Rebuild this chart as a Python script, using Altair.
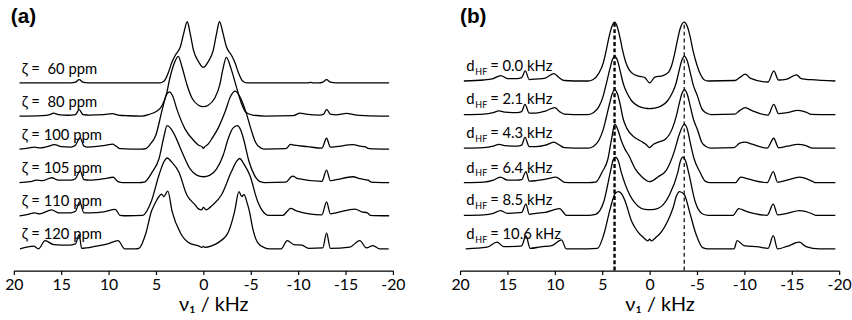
import altair as alt
import pandas as pd

# ---------------------------------------------------------------------------
# Spectra: (nu1 in kHz, intensity above each trace's own baseline)
# ---------------------------------------------------------------------------
A_LABELS = ["ζ = \u00a060 ppm", "ζ = \u00a080 ppm", "ζ = 100 ppm",
            "ζ = 105 ppm", "ζ = 110 ppm", "ζ = 120 ppm"]
B_VALUES = ["0.0", "2.1", "4.3", "6.4", "8.5", "10.6"]

a60 = [(19.4, 0), (14.0, 0), (13.5, 0.8), (13.1, 3.3), (12.7, 0.8), (12.2, 0), (6.0, 0), (4.6, 0),
       (4.17, 1.7), (3.65, 11.7), (3.36, 20), (2.95, 28.3), (2.43, 36.7), (2.08, 50), (1.7, 62),
       (1.39, 50), (1.04, 33), (0.52, 21.7), (0.0, 15.7), (-0.52, 21.7), (-1.04, 33), (-1.39, 50),
       (-1.7, 62), (-2.08, 50), (-2.43, 36.7), (-2.95, 28.3), (-3.36, 20), (-3.65, 11.7),
       (-4.17, 1.7), (-4.6, 0), (-11.0, 0), (-11.3, 0.7), (-11.6, 0), (-12.2, 0), (-12.6, 0.8),
       (-13.0, 3.3), (-13.4, 0.8), (-14.0, 0), (-19.6, 0)]

a80 = [(19.4, 0), (17.0, 0.5), (16.2, 1.5), (15.8, 3), (15.3, 1.5), (14.3, 0.8), (13.5, 1.5),
       (13.1, 6.5), (12.7, 1.5), (12.0, 1), (10.5, 1.5), (9.6, 2.5), (9.0, 1), (8.0, 0.3), (6.5, 0),
       (5.7, 1.8), (4.9, 5), (4.37, 10.5), (3.9, 22), (3.57, 37), (3.13, 52), (2.65, 60.5),
       (2.26, 50), (1.74, 32), (1.22, 18.5), (0.52, 11), (0.0, 9.5), (-0.52, 11), (-1.22, 18.5),
       (-1.74, 32), (-2.05, 47), (-2.43, 59.5), (-2.95, 47), (-3.47, 30), (-3.99, 13.5),
       (-4.51, 3.5), (-5.2, 1), (-6.5, 0), (-9.5, 0.5), (-10.2, 3), (-10.8, 2), (-12.3, 1),
       (-12.7, 2), (-13.0, 6.8), (-13.4, 2), (-14.0, 1.2), (-15.1, 2.8), (-16.0, 1.2),
       (-17.0, 0.5), (-19.6, 0)]

a100 = [(19.4, 0), (18.5, 1), (17.8, 2), (17.2, 1.2), (16.5, 2.5), (15.7, 4.5), (15.0, 2.5),
        (14.0, 2), (13.5, 4), (13.0, 11.5), (12.6, 3), (12.2, 2), (11.0, 3), (10.2, 4), (9.6, 5),
        (9.2, 3), (8.8, 0.5), (7.5, 0), (6.5, 0), (6.07, 0.5), (5.6, 5), (5.03, 13.7), (4.34, 40),
        (3.9, 55), (3.57, 58), (3.25, 54), (2.78, 40), (1.91, 20), (1.04, 9), (0.5, 4),
        (0.15, 2.5), (0.0, 0.8), (-0.15, 2.5), (-0.5, 5), (-0.86, 10), (-1.6, 22), (-2.26, 37),
        (-2.9, 54), (-3.36, 58.7), (-3.8, 54), (-4.51, 37), (-5.03, 20), (-5.5, 7), (-6.07, 1),
        (-6.5, 0), (-8.7, 0.5), (-9.2, 4.7), (-9.6, 4), (-11.0, 2.5), (-12.5, 1), (-13.0, 11),
        (-13.4, 2), (-14.0, 2.5), (-15.8, 4.5), (-16.5, 3), (-17.0, 2.5), (-17.5, 0.5),
        (-19.6, 0)]

a105 = [(19.4, 0), (18.3, 1), (17.6, 2.5), (17.0, 2), (16.0, 5), (15.3, 2.5), (14.0, 2.5),
        (13.5, 4), (13.0, 12), (12.6, 3), (12.0, 2.5), (10.5, 4), (9.5, 5.5), (9.0, 1), (8.5, 0),
        (6.8, 0), (6.25, 0.5), (5.39, 11), (4.69, 24), (4.2, 45), (3.82, 57.7), (3.45, 55),
        (3.0, 47.7), (2.25, 31), (1.4, 14), (0.7, 7.7), (0.0, 6), (-0.7, 7.7), (-1.4, 14),
        (-2.1, 28), (-2.6, 44), (-3.1, 55), (-3.57, 57.7), (-3.95, 53), (-4.3, 42), (-4.8, 22),
        (-5.38, 7.7), (-6.0, 1), (-6.5, 0), (-8.7, 0.5), (-9.4, 6.7), (-10.0, 4), (-12.5, 1.3),
        (-13.0, 12.7), (-13.4, 2), (-14.0, 3), (-15.8, 6), (-16.5, 4), (-17.4, 2.5),
        (-17.7, 0.5), (-19.6, 0)]

a110 = [(19.4, 0), (18.5, 1.5), (17.8, 3), (17.3, 2), (16.0, 6), (15.3, 3), (14.0, 3),
        (13.5, 4.5), (13.05, 14), (12.6, 3), (12.0, 3), (10.5, 4), (9.3, 6.5), (8.8, 0.5),
        (8.0, 0), (6.4, 0.5), (5.5, 14.5), (4.69, 41), (4.2, 54), (3.8, 58.5), (3.4, 55),
        (2.6, 44.5), (1.74, 21), (0.87, 11), (0.52, 7), (0.2, 6), (0.0, 8.5), (-0.3, 6),
        (-0.7, 8.5), (-1.0, 11), (-1.9, 21), (-2.95, 44.5), (-3.5, 55), (-3.82, 58), (-4.3, 52),
        (-4.9, 41), (-5.73, 14.5), (-6.4, 3), (-6.8, 0.5), (-8.4, 0.5), (-8.8, 4), (-9.2, 7.5),
        (-9.8, 5), (-12.5, 1), (-13.0, 14), (-13.4, 2), (-14.0, 3), (-16.0, 6.8), (-16.7, 4),
        (-17.3, 3), (-17.6, 0.5), (-19.6, 0)]

a120 = [(19.35, 0), (17.9, 2.7), (17.4, 0), (16.7, 8.3), (15.8, 4.3), (14.2, 3.7), (13.5, 5),
        (13.1, 14.3), (12.85, 0.5), (11.3, 2.7), (10.1, 5), (9.0, 8.3), (8.3, 0), (7.2, 0),
        (6.8, 0.5), (6.1, 14.7), (5.48, 38), (5.05, 47), (4.69, 53), (4.41, 55.5), (4.17, 53),
        (3.75, 58.5), (3.3, 38), (2.43, 16.3), (1.56, 6.3), (0.52, 3), (0.15, 1.5), (0.0, 2.5),
        (-0.15, 1.5), (-0.87, 3), (-1.56, 6.3), (-2.6, 16.3), (-3.3, 38), (-3.75, 58),
        (-4.05, 53), (-4.3, 55), (-4.6, 47), (-4.86, 38), (-5.2, 21), (-5.73, 6.3),
        (-6.42, 1.3), (-7.0, 0), (-8.2, 0), (-8.85, 8.3), (-9.55, 4.3), (-10.4, 3.7),
        (-11.1, 0.5), (-12.6, 1), (-13.0, 16), (-13.4, 0.5), (-15.45, 1.7), (-16.5, 8.3),
        (-17.2, 1), (-17.9, 3.3), (-18.6, 0), (-19.55, 0)]

b00 = [(19.6, 0), (17.5, 1), (16.5, 2.5), (15.7, 5.5), (15.0, 2.5), (14.0, 2.5), (13.5, 3.5),
       (13.12, 10.3), (12.7, 1.5), (12.0, 2), (11.0, 3), (10.1, 7.5), (9.5, 3), (9.0, 0.5),
       (8.0, 0), (6.5, 0), (6.0, 1.3), (5.35, 8), (4.9, 18), (4.6, 30), (4.25, 46), (3.95, 56),
       (3.7, 59.7), (3.45, 56), (3.15, 45), (2.85, 31), (2.55, 20), (2.2, 12), (1.85, 8),
       (1.2, 5), (0.5, 3.5), (0.0, -2), (-0.55, 4), (-1.4, 5.5), (-2.0, 9), (-2.3, 15),
       (-2.65, 28), (-2.95, 42), (-3.25, 54), (-3.65, 59.7), (-3.95, 56), (-4.25, 46),
       (-4.6, 30), (-5.0, 16), (-5.35, 7), (-5.75, 1.3), (-6.2, 0), (-9.0, 0.5), (-9.5, 3.5),
       (-10.1, 7), (-10.6, 3), (-12.5, -1), (-13.1, 10.3), (-13.6, 1), (-14.5, 2),
       (-15.5, 6.3), (-16.0, 2.3), (-17.0, 1.3), (-19.6, 0)]

b21 = [(19.6, 0), (17.5, 0.5), (16.5, 2), (15.9, 3.7), (15.2, 2.5), (14.0, 2), (13.5, 3),
       (13.15, 10.3), (12.7, 1.5), (12.0, 1.5), (11.0, 3.5), (10.0, 7), (9.5, 3), (9.0, 0.5),
       (8.0, 0), (6.5, 0), (5.9, 2), (5.35, 8), (4.9, 18.7), (4.6, 30), (4.2, 46), (3.95, 55),
       (3.68, 59.3), (3.4, 55), (3.1, 44), (2.8, 32), (2.4, 22), (1.9, 14), (1.2, 8.5),
       (0.5, 6.5), (0.0, 6), (-0.5, 6.5), (-1.2, 8.5), (-1.9, 14), (-2.4, 22), (-2.8, 32),
       (-3.1, 44), (-3.4, 55), (-3.68, 59.3), (-3.95, 55), (-4.3, 42), (-4.6, 30),
       (-5.05, 18.7), (-5.5, 6), (-5.9, 2), (-6.5, 0), (-9.0, 0.5), (-9.5, 4), (-10.1, 7),
       (-10.8, 4), (-12.5, -0.5), (-13.1, 10.3), (-13.6, 1), (-14.5, 2), (-15.65, 4.3),
       (-16.5, 2.5), (-17.0, 0.3), (-19.6, 0)]

b43 = [(19.6, 0), (17.5, 0.5), (16.5, 2), (15.9, 3.7), (15.2, 2.5), (14.0, 2), (13.5, 3),
       (13.15, 11), (12.7, 1.5), (12.0, 1.5), (11.0, 3), (10.1, 6), (9.5, 3), (9.0, 0.5),
       (8.0, 0), (6.5, 0), (5.9, 2), (5.35, 8), (4.9, 18.7), (4.6, 30), (4.2, 46), (3.95, 55),
       (3.68, 59.3), (3.4, 55), (3.1, 44), (2.8, 30), (2.4, 20), (1.6, 11), (0.9, 7),
       (0.4, 4), (0.0, 0.5), (-0.4, 4), (-0.9, 6), (-1.7, 9.3), (-2.4, 20), (-2.8, 32),
       (-3.1, 44), (-3.4, 55), (-3.68, 59.3), (-3.95, 55), (-4.3, 42), (-4.6, 30),
       (-5.05, 18.7), (-5.5, 6), (-5.9, 2), (-6.5, 0), (-8.9, 0.5), (-9.5, 5), (-10.1, 6),
       (-10.8, 4), (-12.4, 0), (-13.1, 10), (-13.6, 0.5), (-14.5, 2), (-15.65, 3.7),
       (-16.5, 2.5), (-17.2, 0), (-19.6, 0)]

b64 = [(19.6, 0), (17.5, 0.5), (16.5, 2.5), (15.75, 5.7), (15.0, 2.5), (14.0, 2.5), (13.5, 3),
       (13.05, 11.3), (12.7, 1.5), (12.0, 2), (11.0, 3.5), (9.86, 5.7), (9.4, 3), (9.0, 0.3),
       (8.0, 0), (6.5, 0), (5.7, 0.5), (5.0, 11), (4.4, 24), (4.0, 45), (3.68, 59.3),
       (3.4, 55), (3.0, 43), (2.6, 34), (2.22, 28), (1.53, 14.3), (0.83, 6), (0.0, 1),
       (-0.9, 6), (-1.77, 12.7), (-2.64, 32.7), (-3.1, 48), (-3.68, 59.3), (-3.95, 55),
       (-4.3, 40), (-4.7, 24), (-5.3, 11), (-5.9, 1.3), (-6.4, 0), (-9.06, 0), (-9.6, 5.7),
       (-10.5, 3.5), (-12.4, 0), (-13.05, 11.3), (-13.5, 0.5), (-14.5, 2.5), (-15.8, 5.7),
       (-17.2, 1.3), (-17.5, 0), (-19.6, 0)]

b85 = [(19.6, 0), (17.5, 0.5), (16.5, 2), (15.75, 4.7), (15.0, 2), (14.0, 2.5), (13.5, 3),
       (13.05, 11.3), (12.7, 1), (12.0, 2), (11.0, 3), (9.5, 6.7), (9.1, 3), (8.8, 0), (8.0, 0),
       (6.5, 0), (5.7, 1), (4.83, 14), (4.14, 44), (3.85, 56), (3.6, 59), (3.3, 55), (3.0, 44),
       (2.1, 20.7), (1.18, 9), (0.5, 6), (0.0, 5.7), (-0.5, 6), (-1.25, 9), (-2.1, 20.7),
       (-2.99, 44), (-3.25, 55), (-3.5, 59), (-3.8, 55), (-4.1, 44), (-4.8, 14), (-5.6, 1.3),
       (-6.2, 0), (-8.8, 0), (-9.4, 6.7), (-10.2, 4), (-12.4, 0), (-13.05, 11.3), (-13.5, 0.5),
       (-14.5, 2), (-15.8, 4.7), (-17.2, 1.3), (-17.5, 0), (-19.6, 0)]

b106 = [(19.4, 0), (17.15, 1.7), (16.1, 6.7), (15.4, 2.3), (14.0, 2.5), (13.5, 3),
        (13.05, 13.3), (12.6, 0.5), (11.5, 2), (10.3, 3.3), (9.3, 9), (8.8, 0), (8.0, 0),
        (6.5, 0), (5.5, 0.5), (4.83, 14.7), (4.14, 41.3), (3.62, 56.3), (3.26, 58), (2.9, 55),
        (2.57, 48), (1.9, 28), (1.3, 18), (0.6, 11), (0.2, 8), (0.0, 9.7), (-0.2, 8),
        (-0.6, 11), (-1.3, 18), (-1.9, 28), (-2.47, 41.3), (-2.85, 54), (-3.16, 58),
        (-3.68, 54.7), (-4.2, 38), (-4.9, 14.7), (-5.59, 1.3), (-6.2, 0), (-8.9, 0),
        (-9.24, 8.3), (-9.95, 3.3), (-11.5, 2), (-12.5, 0.5), (-13.05, 13.3), (-13.5, 0),
        (-14.5, 2.5), (-15.8, 6.7), (-16.5, 2.3), (-17.9, 0), (-19.6, 0)]

# peak positions marked by the dashed guides in panel (b)
GUIDE_X = [3.7, -3.65]

# ---------------------------------------------------------------------------
# Layout constants (stacking offsets, sizes, styles)
# ---------------------------------------------------------------------------
A_OFFSETS = [190, 156.5, 123, 89, 55.5, 22]
B_OFFSETS = [192, 158, 124, 89, 56, 22]
W, H = 384, 260
FONT = "Lato"
XSCALE = alt.Scale(domain=[20, -20], nice=False, zero=False)
YSCALE = alt.Scale(domain=[0, H], nice=False, zero=False)


def stack(traces, offsets):
    rows = []
    for t, (pts, off) in enumerate(zip(traces, offsets)):
        for i, (x, h) in enumerate(pts):
            rows.append({"trace": t, "i": i, "x": x, "y": off + h})
    return pd.DataFrame(rows)


x_axis = alt.Axis(
    values=[20, 15, 10, 5, 0, -5, -10, -15, -20],
    labelExpr="toString(datum.value)",
    labelFont=FONT, labelFontSize=16, labelColor="black", labelPadding=2,
    labelFlush=False, labelOverlap=False,
    tickColor="black", tickSize=4, tickWidth=1.2,
    domainColor="black", domainWidth=1.2, grid=False,
    title="ν₁ / kHz", titleFont=FONT, titleFontSize=20, titleFontWeight="normal",
    titleColor="black", titleX=202, titleY=40.5, titleAlign="center",
    titleBaseline="alphabetic",
)


def spectra(df):
    return alt.Chart(df).mark_line(
        color="black", strokeWidth=1.3, interpolate="monotone"
    ).encode(
        x=alt.X("x:Q", scale=XSCALE, axis=x_axis),
        y=alt.Y("y:Q", scale=YSCALE, axis=None),
        detail="trace:N",
        order="i:Q",
    )


def panel_tag(tag, px):
    return alt.Chart(pd.DataFrame({"t": [tag]})).mark_text(
        font="Liberation Sans", fontWeight="bold", fontSize=21,
        align="left", baseline="alphabetic",
    ).encode(x=alt.value(px), y=alt.value(9.5), text="t:N", color=alt.value("black"))


def guide(gx, width, dash, top):
    return alt.Chart(pd.DataFrame({"gx": [gx], "y0": [0], "y1": [top]})).mark_rule(
        strokeWidth=width, strokeDash=dash
    ).encode(
        x=alt.X("gx:Q", scale=XSCALE, axis=x_axis),
        y=alt.Y("y0:Q", scale=YSCALE, axis=None),
        y2="y1:Q",
        color=alt.value("black"),
    )


# ---------------- panel (a) ----------------
a_df = stack([a60, a80, a100, a105, a110, a120], A_OFFSETS)
a_lab = pd.DataFrame({"label": A_LABELS, "ly": [o + 9.5 for o in A_OFFSETS]})

a_text = alt.Chart(a_lab).mark_text(
    font=FONT, fontSize=15, align="left", baseline="alphabetic"
).encode(
    x=alt.value(8),
    y=alt.Y("ly:Q", scale=YSCALE, axis=None),
    text="label:N",
    color=alt.value("black"),
)

panel_a = alt.layer(spectra(a_df), a_text, panel_tag("(a)", -3)).properties(
    width=W, height=H
)

# ---------------- panel (b) ----------------
b_df = stack([b00, b21, b43, b64, b85, b106], B_OFFSETS)
b_lab = pd.DataFrame({
    "value": ["= " + v + " kHz" for v in B_VALUES],
    "ly": [o + 10.3 for o in B_OFFSETS],
    "sy": [o + 6.3 for o in B_OFFSETS],
})

b_d = alt.Chart(b_lab).mark_text(
    font=FONT, fontSize=15, align="left", baseline="alphabetic"
).encode(x=alt.value(6.3), y=alt.Y("ly:Q", scale=YSCALE, axis=None),
         text=alt.value("d"), color=alt.value("black"))

b_sub = alt.Chart(b_lab).mark_text(
    font=FONT, fontSize=9, align="left", baseline="alphabetic"
).encode(x=alt.value(15.5), y=alt.Y("sy:Q", scale=YSCALE, axis=None),
         text=alt.value("HF"), color=alt.value("black"))

b_val = alt.Chart(b_lab).mark_text(
    font=FONT, fontSize=15, align="left", baseline="alphabetic"
).encode(x=alt.value(30.5), y=alt.Y("ly:Q", scale=YSCALE, axis=None),
         text="value:N", color=alt.value("black"))

top_peak = B_OFFSETS[0] + 59.5

panel_b = alt.layer(
    spectra(b_df),
    guide(GUIDE_X[0], 2.4, [4, 2.5], top_peak),
    guide(GUIDE_X[1], 1.2, [4, 3], top_peak),
    b_d, b_sub, b_val, panel_tag("(b)", 0),
).properties(width=W, height=H)

chart = alt.hconcat(panel_a, panel_b, spacing=68, bounds="flush").properties(
    padding={"left": 4, "top": 4, "right": 0, "bottom": 0},
    background="white",
).configure_view(stroke=None)

chart.save("out.html", embed_options={"renderer": "svg", "actions": False})
